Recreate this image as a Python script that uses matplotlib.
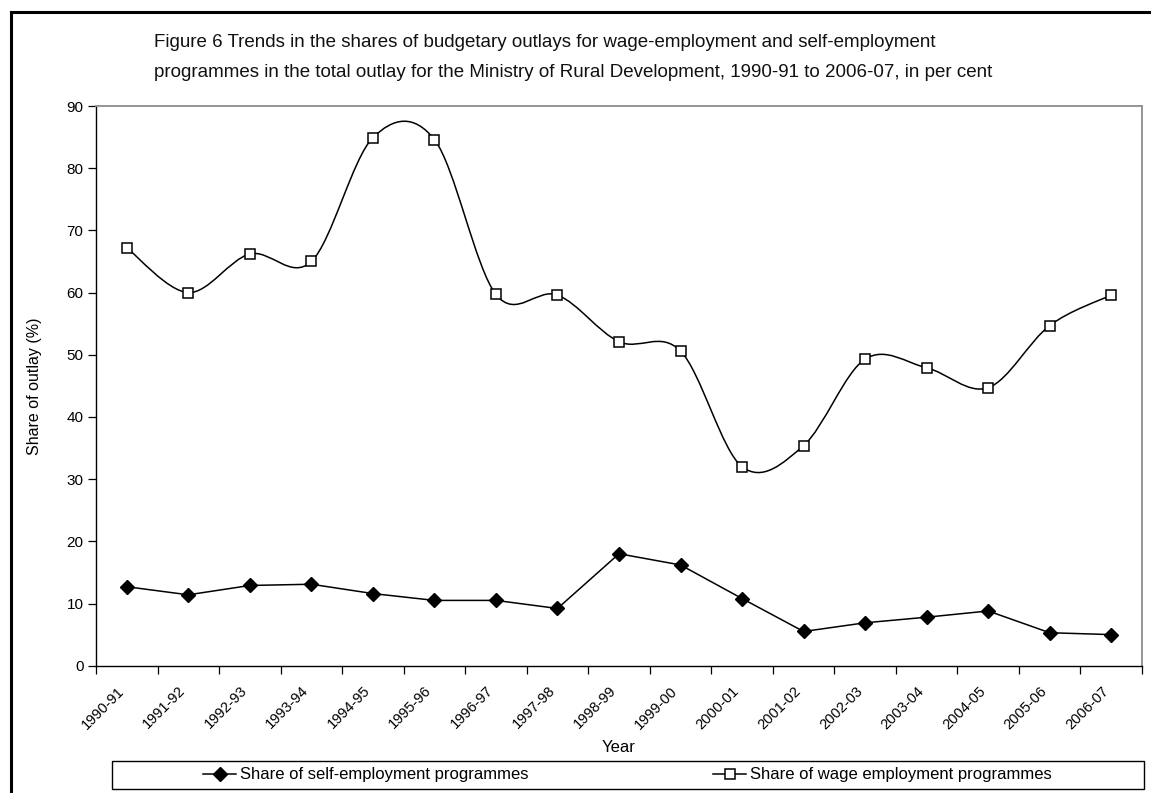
import numpy as np
import matplotlib
matplotlib.use("Agg")
import matplotlib.pyplot as plt
from matplotlib.path import Path
from matplotlib.patches import PathPatch, Rectangle
from matplotlib.lines import Line2D

plt.rcParams['font.family'] = ['Liberation Sans', 'DejaVu Sans']

years = ["1990-91", "1991-92", "1992-93", "1993-94", "1994-95", "1995-96",
         "1996-97", "1997-98", "1998-99", "1999-00", "2000-01", "2001-02",
         "2002-03", "2003-04", "2004-05", "2005-06", "2006-07"]
self_emp = [12.7, 11.4, 12.9, 13.1, 11.6, 10.5, 10.5, 9.2, 18.0, 16.2,
            10.8, 5.5, 6.9, 7.8, 8.8, 5.3, 5.0]
wage_emp = [67.2, 60.0, 66.2, 65.0, 84.9, 84.6, 59.7, 59.6, 52.1, 50.6,
            32.0, 35.4, 49.3, 47.9, 44.7, 54.7, 59.6]

W, H = 1151, 793


def fx(px):
    return px / W


def fy(py):
    return 1 - py / H


def smooth_path(x, y):
    # Catmull-Rom style bezier segments (spreadsheet "smoothed line")
    x = np.asarray(x, float)
    y = np.asarray(y, float)
    n = len(x)
    verts = [(x[0], y[0])]
    codes = [Path.MOVETO]
    for i in range(n - 1):
        i0 = max(i - 1, 0)
        i3 = min(i + 2, n - 1)
        c1 = (x[i] + (x[i + 1] - x[i0]) / 6, y[i] + (y[i + 1] - y[i0]) / 6)
        c2 = (x[i + 1] - (x[i3] - x[i]) / 6, y[i + 1] - (y[i3] - y[i]) / 6)
        verts += [c1, c2, (x[i + 1], y[i + 1])]
        codes += [Path.CURVE4] * 3
    return Path(verts, codes)


fig = plt.figure(figsize=(W / 100, H / 100), dpi=100)
ax = fig.add_axes([fx(96), fy(665.7), fx(1142 - 96), (665.7 - 106) / H])

xpos = np.arange(len(years)) + 0.5

# self-employment: straight segments, filled diamonds
ax.plot(xpos, self_emp, color='black', lw=1.1, marker='D', ms=7,
        mfc='black', mec='black', zorder=3)

# wage employment: smoothed curve, open squares
ax.add_patch(PathPatch(smooth_path(xpos, wage_emp), fill=False,
                       edgecolor='black', lw=1.1, zorder=3))
ax.plot(xpos, wage_emp, ls='none', marker='s', ms=7, mfc='white',
        mec='black', mew=1.1, zorder=4)

ax.set_xlim(0, len(years))
ax.set_ylim(0, 90)
ax.set_yticks(range(0, 91, 10))
ax.set_xticks(range(len(years) + 1))
ax.set_xticklabels([])
ax.set_xticks(xpos, minor=True)
ax.set_xticklabels(years, minor=True, rotation=45, ha='right', va='top',
                   fontsize=10.5)
ax.tick_params(axis='x', which='minor', length=0, pad=13)
ax.tick_params(axis='x', which='major', length=6, direction='out', width=0.9)
ax.tick_params(axis='y', length=6, direction='out', width=0.9, labelsize=11,
               pad=3)

for side in ('left', 'bottom'):
    ax.spines[side].set_color('black')
    ax.spines[side].set_linewidth(1.0)
for side in ('top', 'right'):
    ax.spines[side].set_color('#8c8c8c')
    ax.spines[side].set_linewidth(1.3)

ax.set_ylabel("Share of outlay (%)", fontsize=11.5, labelpad=18)
fig.text(fx(619), fy(748), "Year", ha='center', va='center', fontsize=12)

title_font = dict(family=['Liberation Sans Narrow', 'Liberation Sans'],
                  fontsize=13.5, ha='left', va='baseline', color='#111111')
fig.text(fx(154), fy(47), "Figure 6 Trends in the shares of budgetary outlays "
         "for wage-employment and self-employment", **title_font)
fig.text(fx(154), fy(77), "programmes in the total outlay for the Ministry of "
         "Rural Development, 1990-91 to 2006-07, in per cent", **title_font)

# outer frame (top and left edges)
fig.add_artist(Line2D([fx(11), 1], [fy(12), fy(12)], color='black', lw=2.2))
fig.add_artist(Line2D([fx(11), fx(11)], [fy(12), 0], color='black', lw=2.2))

# legend box
fig.add_artist(Rectangle((fx(112), fy(789)), fx(1144 - 112), (789 - 761) / H,
                         fill=False, edgecolor='black', lw=1.0))
h1 = Line2D([], [], color='black', lw=1.1, marker='D', ms=7, mfc='black')
h2 = Line2D([], [], color='black', lw=1.1, marker='s', ms=7, mfc='white',
            mew=1.1)
leg_kw = dict(loc='center left', frameon=False, fontsize=12, borderpad=0,
              borderaxespad=0, handlelength=2.0, handletextpad=0.25)
fig.legend([h1], ["Share of self-employment programmes"],
           bbox_to_anchor=(fx(203), fy(775)), **leg_kw)
fig.legend([h2], ["Share of wage employment programmes"],
           bbox_to_anchor=(fx(713), fy(775)), **leg_kw)

fig.savefig("out.png", dpi=100)
